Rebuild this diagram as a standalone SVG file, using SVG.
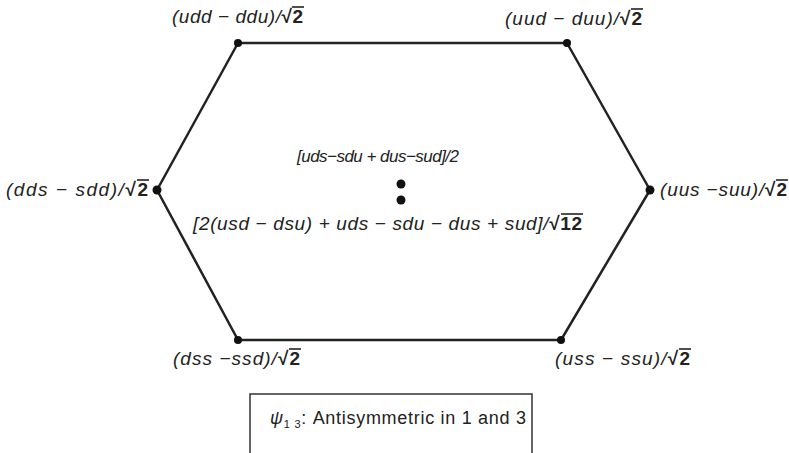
<svg xmlns="http://www.w3.org/2000/svg" width="789" height="453" viewBox="0 0 789 453">
<style>
.edge{stroke:#222;stroke-width:2.5;fill:none;stroke-linejoin:round}
.dot{fill:#111}
.lbl{font-family:"Liberation Sans",Arial,sans-serif;font-style:italic;font-size:19px;fill:#222}
.lbl.small{font-size:17px}
.rad{font-style:normal;font-weight:bold}
.ov{stroke:#222;stroke-width:1.6}
.box{fill:#fff;stroke:#333;stroke-width:1.5}
.cap{font-family:"Liberation Sans",Arial,sans-serif;font-size:18px;fill:#222}
</style>
<rect width="789" height="453" fill="#fff"/>
<g id="connectors">
<polyline class="edge" points="238,43 567,43 650,190 561,340 238,340 157,190 238,43"/>
</g>
<g id="n_udd"><circle class="dot" cx="238" cy="43" r="4"/><text class="lbl" x="172" y="23" textLength="131" lengthAdjust="spacing">(udd − ddu)/<tspan class="rad">√2</tspan></text><line class="ov" x1="292" y1="7" x2="304" y2="7"/></g>
<g id="n_uud"><circle class="dot" cx="567" cy="43" r="4"/><text class="lbl" x="505" y="25" textLength="137" lengthAdjust="spacing">(uud − duu)/<tspan class="rad">√2</tspan></text><line class="ov" x1="631" y1="9" x2="643" y2="9"/></g>
<g id="n_dds"><circle class="dot" cx="157" cy="190" r="4.5"/><text class="lbl" x="6" y="196" textLength="142" lengthAdjust="spacing">(dds − sdd)/<tspan class="rad">√2</tspan></text><line class="ov" x1="137" y1="180" x2="149" y2="180"/></g>
<g id="n_uus"><circle class="dot" cx="650" cy="190" r="4.5"/><text class="lbl" x="660" y="196" textLength="127" lengthAdjust="spacing">(uus −suu)/<tspan class="rad">√2</tspan></text><line class="ov" x1="776" y1="180" x2="788" y2="180"/></g>
<g id="n_dss"><circle class="dot" cx="238" cy="340" r="4"/><text class="lbl" x="173" y="365" textLength="127" lengthAdjust="spacing">(dss −ssd)/<tspan class="rad">√2</tspan></text><line class="ov" x1="289" y1="349" x2="301" y2="349"/></g>
<g id="n_uss"><circle class="dot" cx="561" cy="340" r="4"/><text class="lbl" x="555" y="365" textLength="135" lengthAdjust="spacing">(uss − ssu)/<tspan class="rad">√2</tspan></text><line class="ov" x1="679" y1="349" x2="691" y2="349"/></g>
<g id="n_center">
<text class="lbl small" x="297" y="162" textLength="162" lengthAdjust="spacing">[uds−sdu + dus−sud]/2</text>
<circle class="dot" cx="401" cy="184" r="4.5"/>
<circle class="dot" cx="401" cy="200" r="4.5"/>
<text class="lbl" x="193" y="230" textLength="389" lengthAdjust="spacing">[2(usd − dsu) + uds − sdu − dus + sud]/<tspan class="rad">√12</tspan></text>
<line class="ov" x1="561" y1="214" x2="583" y2="214"/>
</g>
<g id="n_caption">
<rect class="box" x="250" y="394" width="282" height="70"/>
<text class="cap" x="270" y="424" textLength="256" lengthAdjust="spacing"><tspan font-style="italic">ψ</tspan><tspan font-size="11" dy="4">1 3</tspan><tspan dy="-4">: Antisymmetric in 1 and 3</tspan></text>
</g>
</svg>
